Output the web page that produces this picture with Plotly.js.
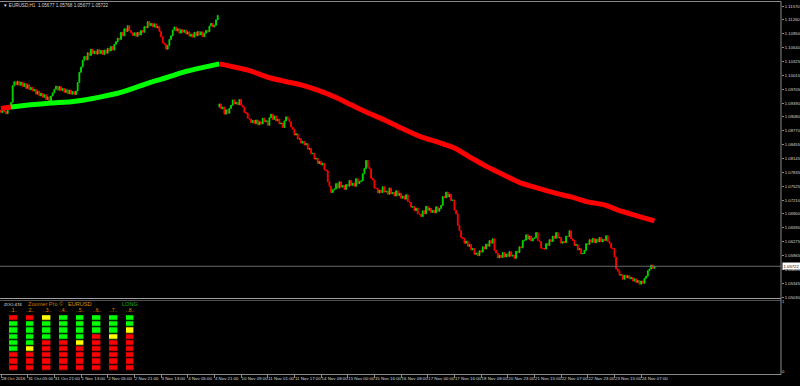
<!DOCTYPE html>
<html><head><meta charset="utf-8">
<script src="https://cdn.plot.ly/plotly-3.0.1.min.js"></script>
<style>html,body{margin:0;padding:0;background:#000;}#chart{width:800px;height:386px;}</style>
</head><body><div id="chart"></div>
<script>
// ---------------- data ----------------
const symbol = 'EURUSD,H1';
const headerOHLC = [1.05677, 1.05768, 1.05677, 1.05722];

// session before the data gap (28 Oct – 4 Nov), hourly closes
const firstOpenA = 1.0923;
const closesA = [
1.0918,1.0927,1.0920,1.0915,1.0926,1.0931,1.0940,1.0978,1.0987,1.0980,
1.0988,1.0979,1.0986,1.0976,1.0983,1.0972,1.0980,1.0969,1.0974,1.0966,
1.0970,1.0959,1.0966,1.0955,1.0961,1.0952,1.0958,1.0947,1.0953,1.0943,
1.0955,1.0962,1.0970,1.0977,1.0968,1.0976,1.0967,1.0972,1.0963,1.0969,
1.0960,1.0968,1.0959,1.0965,1.0958,1.0966,1.0985,1.1008,1.1020,1.1035,
1.1044,1.1036,1.1052,1.1046,1.1060,1.1050,1.1056,1.1049,1.1059,1.1050,
1.1057,1.1048,1.1058,1.1051,1.1062,1.1056,1.1066,1.1058,1.1071,1.1077,
1.1085,1.1082,1.1098,1.1090,1.1106,1.1100,1.1113,1.1102,1.1097,1.1091,
1.1097,1.1089,1.1098,1.1092,1.1102,1.1098,1.1111,1.1108,1.1122,1.1113,
1.1118,1.1110,1.1117,1.1108,1.1111,1.1100,1.1088,1.1074,1.1071,1.1060,
1.1068,1.1082,1.1090,1.1103,1.1110,1.1101,1.1106,1.1096,1.1104,1.1098,
1.1103,1.1094,1.1099,1.1089,1.1094,1.1087,1.1098,1.1090,1.1100,1.1092,
1.1099,1.1088,1.1096,1.1102,1.1099,1.1112,1.1118,1.1110,1.1114,1.1126,
1.1136];

// session after the gap (9 Nov – 24 Nov), hourly closes
const firstOpenB = 1.0930;
const closesB = [
1.0937,1.0926,1.0930,1.0914,1.0924,1.0916,1.0927,1.0934,1.0946,1.0937,
1.0941,1.0935,1.0947,1.0934,1.0930,1.0918,1.0916,1.0905,1.0903,1.0895,
1.0900,1.0893,1.0901,1.0890,1.0897,1.0892,1.0905,1.0897,1.0899,1.0889,
1.0906,1.0914,1.0902,1.0910,1.0899,1.0903,1.0892,1.0894,1.0884,1.0899,
1.0908,1.0903,1.0897,1.0885,1.0880,1.0867,1.0870,1.0858,1.0859,1.0849,
1.0853,1.0845,1.0848,1.0835,1.0837,1.0825,1.0826,1.0813,1.0815,1.0803,
1.0808,1.0800,1.0804,1.0789,1.0787,1.0762,1.0752,1.0738,1.0744,1.0746,
1.0758,1.0748,1.0762,1.0750,1.0754,1.0745,1.0756,1.0752,1.0765,1.0754,
1.0759,1.0752,1.0769,1.0758,1.0763,1.0764,1.0780,1.0792,1.0810,1.0795,
1.0791,1.0770,1.0766,1.0748,1.0747,1.0737,1.0743,1.0738,1.0751,1.0739,
1.0741,1.0734,1.0748,1.0735,1.0738,1.0730,1.0742,1.0731,1.0736,1.0725,
1.0730,1.0723,1.0733,1.0718,1.0716,1.0705,1.0706,1.0697,1.0703,1.0690,
1.0689,1.0684,1.0697,1.0690,1.0707,1.0698,1.0703,1.0693,1.0698,1.0692,
1.0706,1.0696,1.0702,1.0709,1.0729,1.0726,1.0739,1.0728,1.0734,1.0720,
1.0721,1.0698,1.0690,1.0664,1.0652,1.0637,1.0635,1.0624,1.0629,1.0617,
1.0621,1.0609,1.0612,1.0599,1.0602,1.0596,1.0607,1.0604,1.0616,1.0611,
1.0622,1.0617,1.0630,1.0624,1.0634,1.0608,1.0602,1.0591,1.0597,1.0592,
1.0603,1.0593,1.0600,1.0594,1.0605,1.0595,1.0597,1.0590,1.0606,1.0603,
1.0616,1.0614,1.0630,1.0631,1.0643,1.0633,1.0640,1.0629,1.0635,1.0636,
1.0648,1.0630,1.0628,1.0613,1.0612,1.0611,1.0623,1.0619,1.0632,1.0628,
1.0640,1.0635,1.0648,1.0636,1.0637,1.0624,1.0628,1.0625,1.0640,1.0639,
1.0652,1.0634,1.0630,1.0619,1.0621,1.0609,1.0612,1.0600,1.0601,1.0608,
1.0623,1.0621,1.0632,1.0626,1.0635,1.0625,1.0633,1.0627,1.0637,1.0627,
1.0633,1.0630,1.0641,1.0628,1.0624,1.0613,1.0612,1.0593,1.0566,1.0561,
1.0552,1.0553,1.0543,1.0552,1.0546,1.0551,1.0544,1.0547,1.0539,1.0544,
1.0536,1.0540,1.0532,1.0539,1.0534,1.0545,1.0550,1.0562,1.0566,1.0575,
1.05677,1.05722];

// moving average (bar index / value), coloured by slope
const maRedStartIdx = [0, 6];
const maRedStartVal = [1.0927, 1.0930];
const maGreenIdx = [6,18,30,42,50,60,70,80,90,100,110,120,131];
const maGreenVal = [1.0930,1.0935,1.0939,1.0942,1.0946,1.0953,1.0961,1.0973,1.0986,1.0997,1.1009,1.1018,1.1027];
const maRedIdx = [131,140,150,160,170,180,190,200,210,220,230,240,252,262,272,282,292,302,312,322,332,342,352,362,372,382,392];
const maRedVal = [1.1027,1.1020,1.1011,1.0997,1.0988,1.0980,1.0968,1.0953,1.0935,1.0917,1.0901,1.0883,1.0863,1.0851,1.0838,1.0816,1.0795,1.0777,1.0759,1.0748,1.0737,1.0728,1.0717,1.0710,1.0696,1.0685,1.0674];

const priceTicks = [1.11570,1.11260,1.10950,1.10640,1.10325,1.10015,1.09705,1.09390,1.09080,1.08770,1.08455,1.08145,1.07835,1.07525,1.07210,1.06900,1.06590,1.06275,1.05965,1.05655,1.05345,1.05030];

const timeTickIdx = [0,16,32,48,64,80,96,112,128,144,160,176,192,208,224,240,256,272,288,304,320,336,352,368,384];
const timeTickLabels = ['28 Oct 2016','31 Oct 05:00','31 Oct 21:00','1 Nov 13:00','2 Nov 05:00','2 Nov 21:00','3 Nov 13:00','4 Nov 05:00','4 Nov 21:00','10 Nov 09:00','11 Nov 01:00','11 Nov 17:00','14 Nov 08:00','15 Nov 00:00','15 Nov 16:00','16 Nov 08:00','17 Nov 00:00','17 Nov 16:00','18 Nov 08:00','20 Nov 23:00','21 Nov 15:00','22 Nov 07:00','22 Nov 23:00','23 Nov 15:00','24 Nov 07:00'];

// Zoomer Pro panel: 8 columns, 9 cells each (top to bottom); 0 red, 1 yellow, 2 green
const zoomerColumns = [1,2,3,4,5,6,7,8];
const zoomerRows = [1,2,3,4,5,6,7,8,9];
const zoomerLevels = [
 [0,2,2,2,2,2,0,0,0],
 [0,2,2,2,2,1,0,0,0],
 [1,2,2,2,0,0,0,0,0],
 [2,2,2,2,0,0,0,0,0],
 [2,2,2,2,1,0,0,0,0],
 [2,2,2,0,0,0,0,0,0],
 [2,2,2,1,0,0,0,0,0],
 [2,2,1,0,0,0,0,0,0]];
const zoomerTitle = ['ZOO 474','Zoomer Pro \u00a9','EURUSD','LONG'];
const subScaleTicks = ['1','0'];

// ---------------- layout helpers (positions only) ----------------
const colX0 = 7.38, colDX = 10;        // panel columns placed along the bar axis
const rowTop = -1.95, rowBottom = 9.98; // sub-panel row scale (row 1 at top)
const colPos = c => colX0 + (c-1)*colDX;
const PH = 372;                          // plot height in px (page y 2..374)
const py = y => (374 - y)/PH;            // page pixel row -> paper fraction

// ---------------- build ----------------
function buildCandles(firstOpen, closes, startIdx){
  const x=[],o=[],h=[],l=[],c=[];
  closes.forEach((v,k)=>{
    const op = k===0 ? firstOpen : closes[k-1];
    x.push(startIdx+k); o.push(op); c.push(v);
    h.push(Math.max(op,v)); l.push(Math.min(op,v));
  });
  return {x,o,h,l,c};
}
const A = buildCandles(firstOpenA, closesA, 0);
const B = buildCandles(firstOpenB, closesB, closesA.length);
const lastClose = headerOHLC[3];

const traces = [
 {type:'candlestick', x:A.x.concat(B.x), open:A.o.concat(B.o), high:A.h.concat(B.h),
  low:A.l.concat(B.l), close:A.c.concat(B.c), xaxis:'x', yaxis:'y',
  increasing:{line:{color:'#00d800',width:1},fillcolor:'#00d800'},
  decreasing:{line:{color:'#ff0000',width:1},fillcolor:'#ff0000'},
  whiskerwidth:0, hoverinfo:'skip', showlegend:false},
 {type:'scatter', mode:'lines', x:maRedStartIdx, y:maRedStartVal, xaxis:'x', yaxis:'y',
  line:{color:'#ff0000',width:5}, hoverinfo:'skip', showlegend:false},
 {type:'scatter', mode:'lines', x:maGreenIdx, y:maGreenVal, xaxis:'x', yaxis:'y',
  line:{color:'#00ff00',width:5,shape:'spline',smoothing:0.6}, hoverinfo:'skip', showlegend:false},
 {type:'scatter', mode:'lines', x:maRedIdx, y:maRedVal, xaxis:'x', yaxis:'y',
  line:{color:'#ff0000',width:5,shape:'spline',smoothing:0.6}, hoverinfo:'skip', showlegend:false},
 {type:'heatmap', x:zoomerColumns.map(colPos), y:zoomerRows,
  z:zoomerRows.map((r,ri)=>zoomerColumns.map((c,ci)=>zoomerLevels[ci][ri])),
  zmin:0, zmax:2, showscale:false, xgap:8.6, ygap:1.3, xaxis:'x', yaxis:'y2',
  colorscale:[[0,'#ff0000'],[0.33,'#ff0000'],[0.34,'#ffff00'],[0.66,'#ffff00'],[0.67,'#00ff00'],[1,'#00ff00']],
  hoverinfo:'skip'}
];

const mainBottom = py(298), subTop = py(300);
const axisCol = '#d8d8d8', frameCol = '#8a8a8a';
const FF = 'Liberation Sans, Arial, sans-serif';
const tickFont = {family:FF, size:4.2, color:axisCol};

const annotations = [
 {xref:'paper', yref:'paper', x:0.003, y:1, xanchor:'left', yanchor:'top', showarrow:false, borderpad:0,
  text:'\u25BC '+symbol+'  '+headerOHLC.map(v=>v.toFixed(5)).join(' '),
  font:{family:FF, size:4.6, color:'#d8d8d8'}},
 {xref:'paper', yref:'y', x:1.0015, y:lastClose, xanchor:'left', yanchor:'middle', showarrow:false,
  text:lastClose.toFixed(5), bgcolor:'#ffffff', borderpad:0.6,
  font:{family:FF, size:4.2, color:'#000000'}},
 {xref:'x', yref:'y2', x:1.2, y:-1.3, xanchor:'left', yanchor:'middle', showarrow:false, borderpad:0,
  text:zoomerTitle[0], font:{family:FF, size:4.3, color:'#e8e8e8'}},
 {xref:'x', yref:'y2', x:15.6, y:-1.3, xanchor:'left', yanchor:'middle', showarrow:false, borderpad:0,
  text:zoomerTitle[1], font:{family:FF, size:5.6, color:'#c97a00'}},
 {xref:'x', yref:'y2', x:colPos(5), y:-1.3, xanchor:'center', yanchor:'middle', showarrow:false, borderpad:0,
  text:zoomerTitle[2], font:{family:FF, size:5.6, color:'#e08400'}},
 {xref:'x', yref:'y2', x:colPos(8), y:-1.3, xanchor:'center', yanchor:'middle', showarrow:false, borderpad:0,
  text:zoomerTitle[3], font:{family:FF, size:5.6, color:'#10b010'}}
];
zoomerColumns.forEach(c=>annotations.push({xref:'x', yref:'y2', x:colPos(c), y:-0.3, xanchor:'center', yanchor:'middle',
  showarrow:false, borderpad:0, text:'..'+c+'..', font:{family:FF, size:5, color:'#e08a00'}}));

const shapes = [
 {type:'line', xref:'paper', yref:'paper', x0:0, x1:1, y0:py(1.5), y1:py(1.5), line:{color:frameCol,width:1}},
 {type:'line', xref:'paper', yref:'paper', x0:0, x1:1, y0:py(298.5), y1:py(298.5), line:{color:'#a0a0a0',width:1}},
 {type:'line', xref:'paper', yref:'paper', x0:0, x1:1, y0:py(300.5), y1:py(300.5), line:{color:'#505050',width:1}},
 {type:'line', xref:'paper', yref:'paper', x0:0, x1:1, y0:py(374.5), y1:py(374.5), line:{color:frameCol,width:1}},
 {type:'line', xref:'paper', yref:'paper', x0:1, x1:1, y0:py(374.5), y1:py(1.5), line:{color:frameCol,width:1}},
 {type:'line', xref:'paper', yref:'y', x0:0, x1:1, y0:lastClose, y1:lastClose, line:{color:'#6a6a6a',width:1}}
];

const layout = {
  width:800, height:386, margin:{l:0,r:19,t:2,b:12},
  paper_bgcolor:'#000000', plot_bgcolor:'#000000', showlegend:false, hovermode:false, dragmode:false,
  xaxis:{range:[-0.6,467.9], anchor:'y2', tickmode:'array', tickvals:timeTickIdx, ticktext:timeTickLabels,
    ticks:'outside', ticklen:3, tickcolor:frameCol, tickangle:0, ticklabelposition:'outside right',
    tickfont:{family:FF, size:4.4, color:axisCol},
    showgrid:false, zeroline:false, showline:false, rangeslider:{visible:false}},
  yaxis:{domain:[mainBottom,1], range:[1.05009,1.11661], side:'right', anchor:'x', tickmode:'array',
    tickvals:priceTicks, ticktext:priceTicks.map(v=>v.toFixed(5)), ticks:'outside', ticklen:2, tickcolor:frameCol,
    tickfont:tickFont, showgrid:false, zeroline:false, showline:false},
  yaxis2:{domain:[0,subTop], range:[rowBottom,rowTop], side:'right', anchor:'x', tickmode:'array',
    tickvals:[rowTop+2/6.2, rowBottom-2/6.2], ticktext:subScaleTicks, ticks:'', tickfont:tickFont,
    showgrid:false, zeroline:false, showline:false},
  annotations, shapes
};

Plotly.newPlot('chart', traces, layout, {staticPlot:true, displayModeBar:false});
</script>
</body></html>
